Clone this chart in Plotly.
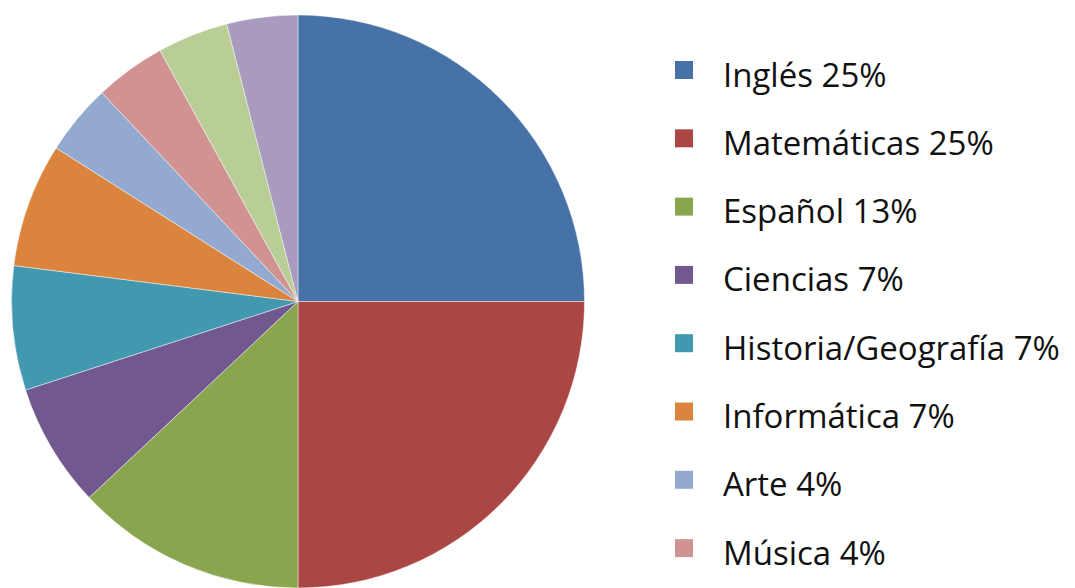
import plotly.graph_objects as go

materias = ["Inglés", "Matemáticas", "Español", "Ciencias", "Historia/Geografía",
            "Informática", "Arte", "Música", "Educación Física", "Ética"]
porcentajes = [25, 25, 13, 7, 7, 7, 4, 4, 4, 4]
colores = ["#4672A8", "#AA4643", "#89A54E", "#71588F", "#4198AF",
           "#DB843D", "#93A9CF", "#D19392", "#B9CD96", "#A99BBD"]

W, H = 1075, 588

fig = go.Figure()
fig.add_trace(go.Pie(
    labels=materias,
    values=porcentajes,
    sort=False,
    direction="clockwise",
    rotation=0,
    marker=dict(colors=colores, line=dict(color="rgba(255,255,255,0.45)", width=1)),
    textinfo="none",
    hoverinfo="label+percent",
    showlegend=False,
    domain=dict(x=[11.5 / W, 584.5 / W], y=[0, 1 - 15 / H]),
))

# Manual legend (squares + labels), rows every ~68 px; rows that fall below
# the visible page (as in the reference, where the legend is cut off) are skipped
row0, step = 70, 68.3
shapes, annotations = [], []
for i, (m, p, c) in enumerate(zip(materias, porcentajes, colores)):
    yc = row0 + i * step
    if yc + 20 > H:
        continue
    shapes.append(dict(type="rect", xref="paper", yref="paper",
                       x0=675 / W, x1=693 / W,
                       y0=1 - (yc - 9) / H, y1=1 - (yc + 9) / H,
                       fillcolor=c, line=dict(width=0)))
    annotations.append(dict(xref="paper", yref="paper", x=721 / W, y=1 - (yc + 4) / H,
                            xanchor="left", yanchor="middle", showarrow=False,
                            text=f"{m} {p}%",
                            font=dict(family="Open Sans", size=33, color="#111111")))

fig.update_layout(
    width=W, height=H,
    margin=dict(l=0, r=0, t=0, b=0),
    paper_bgcolor="white", plot_bgcolor="white",
    shapes=shapes, annotations=annotations,
)
fig.write_html("out.html", config={"displayModeBar": False},
               post_script="document.body.style.margin='0';document.body.style.overflow='hidden';")
